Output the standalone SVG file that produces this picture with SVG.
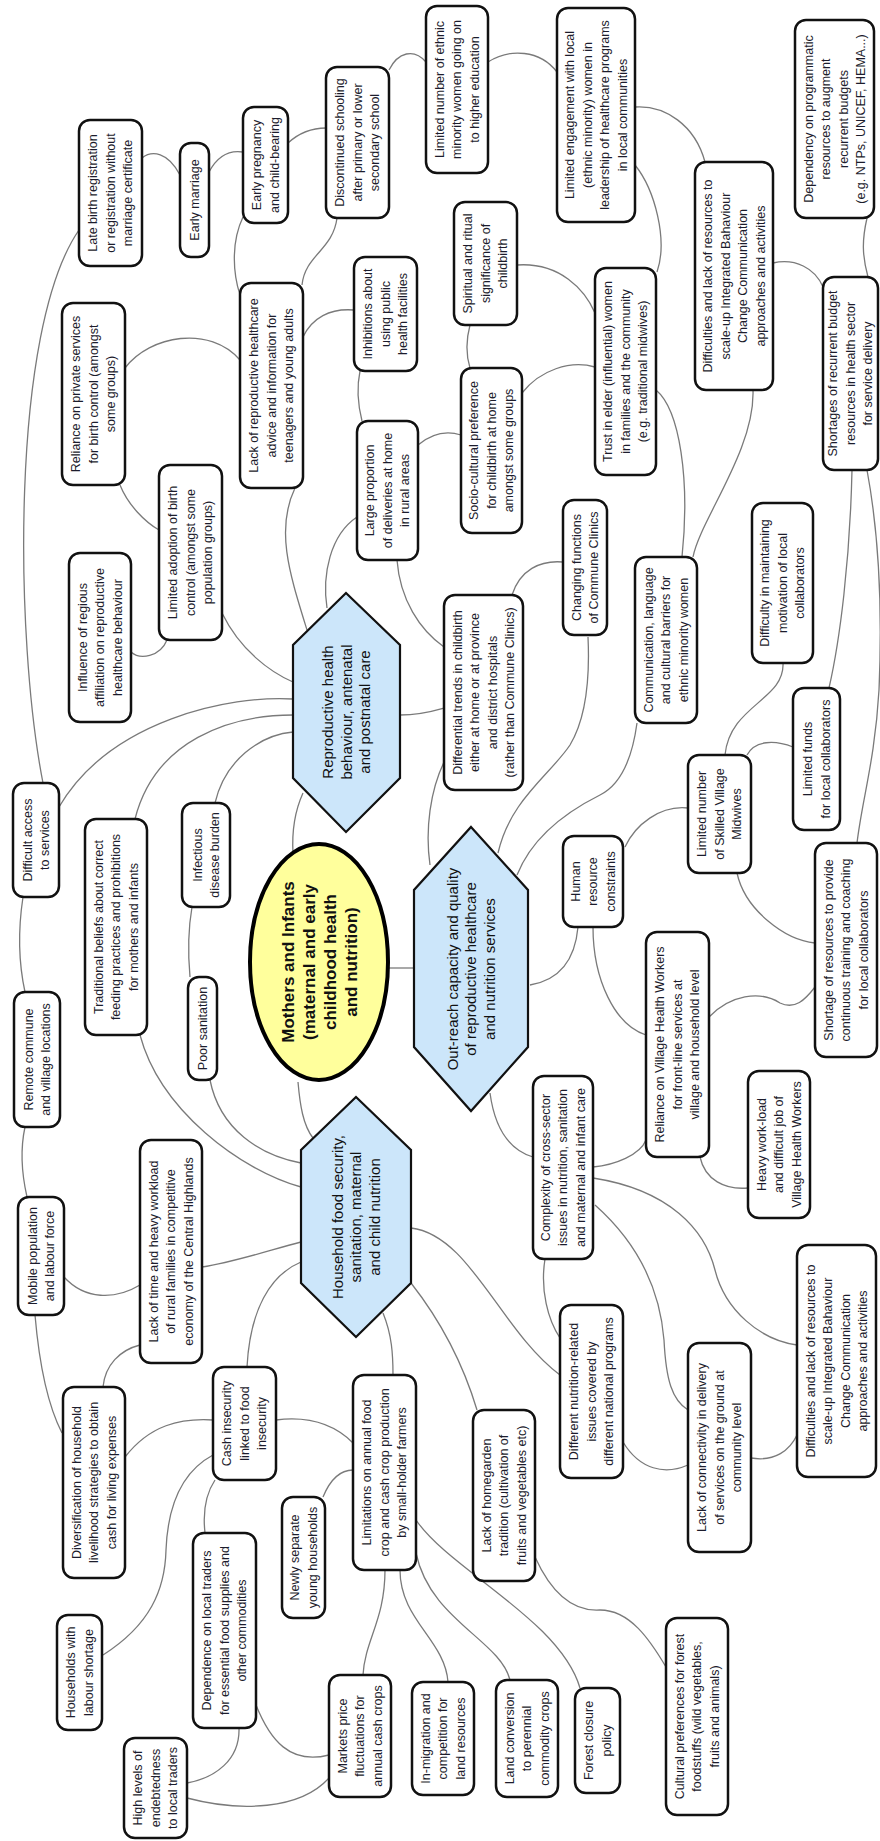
<svg xmlns="http://www.w3.org/2000/svg" width="880" height="1841" viewBox="0 0 880 1841">
<style>
.n rect{fill:#fff;stroke:#111;stroke-width:2.5}
.n text{font-family:"Liberation Sans",Arial,sans-serif;font-size:12.5px;fill:#1c1c2c;text-anchor:middle}
.hx polygon{fill:#cce6fa;stroke:#111;stroke-width:2.2}
.hx text{font-family:"Liberation Sans",Arial,sans-serif;font-size:15px;fill:#111;text-anchor:middle}
.ce ellipse{fill:#ffff9c;stroke:#000;stroke-width:4}
.ce text{font-family:"Liberation Sans",Arial,sans-serif;font-size:17px;font-weight:bold;fill:#111;text-anchor:middle}
.c path{fill:none;stroke:#7a7a7a;stroke-width:1.3}
</style>
<rect width="880" height="1841" fill="#fff"/>
<g class="c" id="connectors">
<path d="M142,158 C152,150 168,152 180,175"/>
<path d="M209,172 C218,155 230,150 243,152"/>
<path d="M288,143 C300,132 312,128 326,128"/>
<path d="M389,70 C398,52 414,48 426,62"/>
<path d="M488,62 C510,48 540,50 557,72"/>
<path d="M635,107 C665,105 695,125 705,162"/>
<path d="M635,165 C655,190 668,240 657,272"/>
<path d="M773,263 C795,258 815,268 823,287"/>
<path d="M867,218 C862,240 862,255 868,277"/>
<path d="M753,390 C755,450 700,520 693,557"/>
<path d="M656,390 C680,410 690,480 682,557"/>
<path d="M517,265 C560,262 585,290 595,313"/>
<path d="M522,393 C540,370 570,360 595,367"/>
<path d="M470,325 C466,340 466,355 470,368"/>
<path d="M418,445 C430,435 445,430 461,435"/>
<path d="M360,371 C356,390 358,405 362,421"/>
<path d="M354,310 C330,308 312,318 303,337"/>
<path d="M337,218 C333,250 305,255 302,285"/>
<path d="M243,217 C232,240 232,270 240,295"/>
<path d="M125,368 C150,335 210,325 240,360"/>
<path d="M120,485 C128,505 145,522 159,530"/>
<path d="M131,652 C140,660 160,657 167,640"/>
<path d="M222,613 C240,650 270,672 293,682"/>
<path d="M295,488 C275,530 290,575 307,630"/>
<path d="M59,807 C110,720 230,695 293,699"/>
<path d="M135,819 C155,740 230,715 293,715"/>
<path d="M215,803 C225,760 260,735 293,732"/>
<path d="M79,230 C10,330 15,640 43,783"/>
<path d="M23,897 C18,930 18,960 25,992"/>
<path d="M25,1127 C20,1150 22,1175 27,1197"/>
<path d="M64,1277 C85,1300 115,1300 140,1285"/>
<path d="M35,1315 C38,1350 45,1400 62,1433"/>
<path d="M140,1345 C120,1350 105,1365 103,1387"/>
<path d="M125,1457 C150,1425 180,1418 213,1420"/>
<path d="M103,1655 C150,1625 165,1590 166,1550 C168,1500 185,1470 213,1455"/>
<path d="M215,1480 C205,1495 203,1515 205,1533"/>
<path d="M276,1420 C300,1417 330,1420 353,1443"/>
<path d="M239,1728 C240,1760 215,1778 187,1783"/>
<path d="M256,1705 C270,1740 290,1765 329,1755"/>
<path d="M187,1798 C240,1812 300,1810 329,1778"/>
<path d="M323,1497 C330,1480 340,1470 353,1470"/>
<path d="M385,1570 C385,1620 365,1640 363,1675"/>
<path d="M400,1570 C400,1620 445,1640 448,1682"/>
<path d="M416,1553 C430,1620 500,1640 510,1680"/>
<path d="M416,1520 C450,1570 560,1620 580,1688"/>
<path d="M535,1557 C550,1590 570,1612 600,1610 C630,1610 650,1640 666,1667"/>
<path d="M383,1313 C392,1335 393,1355 393,1375"/>
<path d="M411,1283 C440,1320 462,1360 477,1410"/>
<path d="M411,1228 C470,1235 500,1330 560,1375"/>
<path d="M490,1093 C495,1130 510,1150 533,1157"/>
<path d="M545,1259 C540,1290 548,1320 560,1338"/>
<path d="M593,1167 C615,1165 640,1155 646,1140"/>
<path d="M593,1178 C670,1190 705,1230 715,1270 C725,1310 760,1340 797,1345"/>
<path d="M595,1205 C640,1245 660,1290 664,1340 C666,1380 672,1400 688,1410"/>
<path d="M623,1442 C640,1470 665,1475 688,1465"/>
<path d="M751,1458 C775,1462 790,1450 797,1435"/>
<path d="M530,985 C560,980 575,960 578,927"/>
<path d="M593,927 C593,980 615,1025 646,1035"/>
<path d="M709,1017 C730,995 760,990 780,1003 C795,1010 805,1000 815,987"/>
<path d="M700,1157 C705,1180 725,1190 748,1188"/>
<path d="M737,873 C745,910 785,940 815,943"/>
<path d="M688,808 C660,805 635,825 625,847"/>
<path d="M747,755 C755,740 775,740 793,747"/>
<path d="M783,663 C785,700 730,705 725,755"/>
<path d="M852,470 C850,560 840,640 829,688"/>
<path d="M867,470 C880,540 882,620 879,690 C875,760 862,800 857,843"/>
<path d="M517,875 C535,830 580,805 600,795 C620,785 632,760 637,723"/>
<path d="M498,853 C510,800 550,775 570,745 C585,720 590,680 588,637"/>
<path d="M445,760 C430,790 425,830 430,865"/>
<path d="M400,715 C415,715 430,712 444,708"/>
<path d="M397,560 C400,600 420,630 444,647"/>
<path d="M327,608 C322,575 330,535 357,517"/>
<path d="M512,595 C520,570 540,560 563,562"/>
<path d="M303,793 C293,815 292,835 293,853"/>
<path d="M388,968 L414,968"/>
<path d="M298,1082 C300,1105 303,1125 313,1138"/>
<path d="M210,1080 C220,1130 260,1155 301,1163"/>
<path d="M140,1035 C160,1110 240,1170 301,1187"/>
<path d="M202,1267 C235,1262 270,1250 301,1242"/>
<path d="M247,1367 C250,1310 270,1275 301,1262"/>
<path d="M192,907 C188,930 188,955 190,977"/>
</g>

<g id="center" class="ce">
<ellipse cx="319" cy="962" rx="69" ry="118"/>
<text transform="translate(319 962) rotate(-90)"><tspan x="0" y="-25.5">Mothers and Infants</tspan><tspan x="0" y="-4.5">(maternal and early</tspan><tspan x="0" y="16.5">childhood health</tspan><tspan x="0" y="37.5">and nutrition)</tspan></text>
</g>

<g id="hex-reproductive" class="hx">
<polygon points="346,593 400,645 400,778 346,832 293,778 293,645"/>
<text transform="translate(346.5 712) rotate(-90)"><tspan x="0" y="-13.2">Reproductive health</tspan><tspan x="0" y="5.3">behaviour, antenatal</tspan><tspan x="0" y="23.8">and postnatal care</tspan></text>
</g>
<g id="hex-outreach" class="hx">
<polygon points="471,827 528,890 528,1047 471,1111 414,1047 414,890"/>
<text transform="translate(471 969) rotate(-90)"><tspan x="0" y="-13.2">Out-reach capacity and quality</tspan><tspan x="0" y="5.3">of reproductive healthcare</tspan><tspan x="0" y="23.8">and nutrition services</tspan></text>
</g>
<g id="hex-household" class="hx">
<polygon points="356,1097 411,1150 411,1283 356,1337 301,1283 301,1150"/>
<text transform="translate(356 1217) rotate(-90)"><tspan x="0" y="-13.2">Household food security,</tspan><tspan x="0" y="5.3">sanitation, maternal</tspan><tspan x="0" y="23.8">and child nutrition</tspan></text>
</g>

<g id="n1" class="n"><rect x="79" y="120" width="63" height="146" rx="11"/><text transform="translate(110.5 193) rotate(-90)"><tspan x="0" y="-13.1">Late birth registration</tspan><tspan x="0" y="4.4">or registration without</tspan><tspan x="0" y="21.9">marriage certificate</tspan></text></g>
<g id="n2" class="n"><rect x="180" y="143" width="29" height="114" rx="11"/><text transform="translate(194.5 200) rotate(-90)"><tspan x="0" y="4.4">Early marriage</tspan></text></g>
<g id="n3" class="n"><rect x="243" y="107" width="45" height="116" rx="11"/><text transform="translate(265.5 165) rotate(-90)"><tspan x="0" y="-4.35">Early pregnancy</tspan><tspan x="0" y="13.15">and child-bearing</tspan></text></g>
<g id="n4" class="n"><rect x="326" y="67" width="63" height="151" rx="11"/><text transform="translate(357.5 142.5) rotate(-90)"><tspan x="0" y="-13.1">Discontinued schooling</tspan><tspan x="0" y="4.4">after primary or lower</tspan><tspan x="0" y="21.9">secondary school</tspan></text></g>
<g id="n5" class="n"><rect x="426" y="6" width="62" height="167" rx="11"/><text transform="translate(457 89.5) rotate(-90)"><tspan x="0" y="-13.1">Limited number of ethnic</tspan><tspan x="0" y="4.4">minority women going on</tspan><tspan x="0" y="21.9">to higher education</tspan></text></g>
<g id="n6" class="n"><rect x="557" y="8" width="78" height="214" rx="11"/><text transform="translate(596 115) rotate(-90)"><tspan x="0" y="-21.85">Limited engagement with local</tspan><tspan x="0" y="-4.35">(ethnic minority) women in</tspan><tspan x="0" y="13.15">leadership of healthcare programs</tspan><tspan x="0" y="30.65">in local communities</tspan></text></g>
<g id="n7" class="n"><rect x="795" y="20" width="79" height="198" rx="11"/><text transform="translate(834.5 119) rotate(-90)"><tspan x="0" y="-21.85">Dependency on programmatic</tspan><tspan x="0" y="-4.35">resources to augment</tspan><tspan x="0" y="13.15">recurrent budgets</tspan><tspan x="0" y="30.65">(e.g. NTPs, UNICEF, HEMA...)</tspan></text></g>
<g id="n8" class="n"><rect x="695" y="162" width="78" height="228" rx="11"/><text transform="translate(734 276) rotate(-90)"><tspan x="0" y="-21.85">Difficulties and lack of resources to</tspan><tspan x="0" y="-4.35">scale-up Integrated Bahaviour</tspan><tspan x="0" y="13.15">Change Communication</tspan><tspan x="0" y="30.65">approaches and activities</tspan></text></g>
<g id="n9" class="n"><rect x="823" y="277" width="55" height="193" rx="11"/><text transform="translate(850.5 373.5) rotate(-90)"><tspan x="0" y="-13.1">Shortages of recurrent budget</tspan><tspan x="0" y="4.4">resources in health sector</tspan><tspan x="0" y="21.9">for service delivery</tspan></text></g>
<g id="n10" class="n"><rect x="595" y="268" width="61" height="207" rx="11"/><text transform="translate(625.5 371.5) rotate(-90)"><tspan x="0" y="-13.1">Trust in elder (influential) women</tspan><tspan x="0" y="4.4">in families and the community</tspan><tspan x="0" y="21.9">(e.g. traditional midwives)</tspan></text></g>
<g id="n11" class="n"><rect x="454" y="202" width="63" height="123" rx="11"/><text transform="translate(485.5 263.5) rotate(-90)"><tspan x="0" y="-13.1">Spiritual and ritual</tspan><tspan x="0" y="4.4">significance of</tspan><tspan x="0" y="21.9">childbirth</tspan></text></g>
<g id="n12" class="n"><rect x="461" y="368" width="61" height="165" rx="11"/><text transform="translate(491.5 450.5) rotate(-90)"><tspan x="0" y="-13.1">Socio-cultural preference</tspan><tspan x="0" y="4.4">for childbirth at home</tspan><tspan x="0" y="21.9">amongst some groups</tspan></text></g>
<g id="n13" class="n"><rect x="354" y="257" width="63" height="114" rx="11"/><text transform="translate(385.5 314) rotate(-90)"><tspan x="0" y="-13.1">Inhibitions about</tspan><tspan x="0" y="4.4">using public</tspan><tspan x="0" y="21.9">health facilities</tspan></text></g>
<g id="n14" class="n"><rect x="240" y="283" width="63" height="205" rx="11"/><text transform="translate(271.5 385.5) rotate(-90)"><tspan x="0" y="-13.1">Lack of reproductive healthcare</tspan><tspan x="0" y="4.4">advice and information for</tspan><tspan x="0" y="21.9">teenagers and young adults</tspan></text></g>
<g id="n15" class="n"><rect x="62" y="303" width="63" height="182" rx="11"/><text transform="translate(93.5 394) rotate(-90)"><tspan x="0" y="-13.1">Reliance on private services</tspan><tspan x="0" y="4.4">for birth control (amongst</tspan><tspan x="0" y="21.9">some groups)</tspan></text></g>
<g id="n16" class="n"><rect x="159" y="465" width="63" height="175" rx="11"/><text transform="translate(190.5 552.5) rotate(-90)"><tspan x="0" y="-13.1">Limited adoption of birth</tspan><tspan x="0" y="4.4">control (amongst some</tspan><tspan x="0" y="21.9">population groups)</tspan></text></g>
<g id="n17" class="n"><rect x="69" y="553" width="62" height="169" rx="11"/><text transform="translate(100 637.5) rotate(-90)"><tspan x="0" y="-13.1">Influence of regious</tspan><tspan x="0" y="4.4">affiliation on reproductive</tspan><tspan x="0" y="21.9">healthcare behaviour</tspan></text></g>
<g id="n18" class="n"><rect x="357" y="421" width="61" height="139" rx="11"/><text transform="translate(387.5 490.5) rotate(-90)"><tspan x="0" y="-13.1">Large proportion</tspan><tspan x="0" y="4.4">of deliveries at home</tspan><tspan x="0" y="21.9">in rural areas</tspan></text></g>
<g id="n19" class="n"><rect x="444" y="595" width="79" height="195" rx="11"/><text transform="translate(483.5 692.5) rotate(-90)"><tspan x="0" y="-21.85">Differential trends in childbirth</tspan><tspan x="0" y="-4.35">either at home or at province</tspan><tspan x="0" y="13.15">and district hospitals</tspan><tspan x="0" y="30.65">(rather than Commune Clinics)</tspan></text></g>
<g id="n20" class="n"><rect x="563" y="500" width="44" height="135" rx="11"/><text transform="translate(585 567.5) rotate(-90)"><tspan x="0" y="-4.35">Changing functions</tspan><tspan x="0" y="13.15">of Commune Clinics</tspan></text></g>
<g id="n21" class="n"><rect x="635" y="557" width="62" height="166" rx="11"/><text transform="translate(666 640) rotate(-90)"><tspan x="0" y="-13.1">Communication, language</tspan><tspan x="0" y="4.4">and cultural barriers for</tspan><tspan x="0" y="21.9">ethnic minority women</tspan></text></g>
<g id="n22" class="n"><rect x="752" y="503" width="61" height="160" rx="11"/><text transform="translate(782.5 583) rotate(-90)"><tspan x="0" y="-13.1">Difficulty in maintaining</tspan><tspan x="0" y="4.4">motivation of local</tspan><tspan x="0" y="21.9">collaborators</tspan></text></g>
<g id="n23" class="n"><rect x="793" y="688" width="47" height="142" rx="11"/><text transform="translate(816.5 759) rotate(-90)"><tspan x="0" y="-4.35">Limited funds</tspan><tspan x="0" y="13.15">for local collaborators</tspan></text></g>
<g id="n24" class="n"><rect x="688" y="755" width="63" height="118" rx="11"/><text transform="translate(719.5 814) rotate(-90)"><tspan x="0" y="-13.1">Limited number</tspan><tspan x="0" y="4.4">of Skilled Village</tspan><tspan x="0" y="21.9">Midwives</tspan></text></g>
<g id="n25" class="n"><rect x="563" y="836" width="60" height="91" rx="11"/><text transform="translate(593 881.5) rotate(-90)"><tspan x="0" y="-13.1">Human</tspan><tspan x="0" y="4.4">resource</tspan><tspan x="0" y="21.9">constraints</tspan></text></g>
<g id="n26" class="n"><rect x="815" y="843" width="62" height="214" rx="11"/><text transform="translate(846 950) rotate(-90)"><tspan x="0" y="-13.1">Shortage of resources to provide</tspan><tspan x="0" y="4.4">continuous training and coaching</tspan><tspan x="0" y="21.9">for local collaborators</tspan></text></g>
<g id="n27" class="n"><rect x="13" y="783" width="46" height="114" rx="11"/><text transform="translate(36 840) rotate(-90)"><tspan x="0" y="-4.35">Difficult access</tspan><tspan x="0" y="13.15">to services</tspan></text></g>
<g id="n28" class="n"><rect x="85" y="819" width="62" height="216" rx="11"/><text transform="translate(116 927) rotate(-90)"><tspan x="0" y="-13.1">Traditional beliefs about correct</tspan><tspan x="0" y="4.4">feeding practices and prohibitions</tspan><tspan x="0" y="21.9">for mothers and infants</tspan></text></g>
<g id="n29" class="n"><rect x="182" y="803" width="48" height="104" rx="11"/><text transform="translate(206 855) rotate(-90)"><tspan x="0" y="-4.35">Infectious</tspan><tspan x="0" y="13.15">disease burden</tspan></text></g>
<g id="n30" class="n"><rect x="188" y="977" width="29" height="103" rx="11"/><text transform="translate(202.5 1028.5) rotate(-90)"><tspan x="0" y="4.4">Poor sanitation</tspan></text></g>
<g id="n31" class="n"><rect x="14" y="992" width="46" height="135" rx="11"/><text transform="translate(37 1059.5) rotate(-90)"><tspan x="0" y="-4.35">Remote commune</tspan><tspan x="0" y="13.15">and village locations</tspan></text></g>
<g id="n32" class="n"><rect x="18" y="1197" width="46" height="118" rx="11"/><text transform="translate(41 1256) rotate(-90)"><tspan x="0" y="-4.35">Mobile population</tspan><tspan x="0" y="13.15">and labour force</tspan></text></g>
<g id="n33" class="n"><rect x="140" y="1140" width="62" height="223" rx="11"/><text transform="translate(171 1251.5) rotate(-90)"><tspan x="0" y="-13.1">Lack of time and heavy workload</tspan><tspan x="0" y="4.4">of rural families in competitive</tspan><tspan x="0" y="21.9">economy of the Central Highlands</tspan></text></g>
<g id="n34" class="n"><rect x="646" y="932" width="63" height="225" rx="11"/><text transform="translate(677.5 1044.5) rotate(-90)"><tspan x="0" y="-13.1">Reliance on Village Health Workers</tspan><tspan x="0" y="4.4">for front-line services at</tspan><tspan x="0" y="21.9">village and household level</tspan></text></g>
<g id="n35" class="n"><rect x="748" y="1071" width="62" height="147" rx="11"/><text transform="translate(779 1144.5) rotate(-90)"><tspan x="0" y="-13.1">Heavy work-load</tspan><tspan x="0" y="4.4">and difficult job of</tspan><tspan x="0" y="21.9">Village Health Workers</tspan></text></g>
<g id="n36" class="n"><rect x="533" y="1076" width="60" height="183" rx="11"/><text transform="translate(563 1167.5) rotate(-90)"><tspan x="0" y="-13.1">Complexity of cross-sector</tspan><tspan x="0" y="4.4">issues in nutrition, sanitation</tspan><tspan x="0" y="21.9">and maternal and infant care</tspan></text></g>
<g id="n37" class="n"><rect x="560" y="1305" width="63" height="173" rx="11"/><text transform="translate(591.5 1391.5) rotate(-90)"><tspan x="0" y="-13.1">Different nutrition-related</tspan><tspan x="0" y="4.4">issues covered by</tspan><tspan x="0" y="21.9">different national programs</tspan></text></g>
<g id="n38" class="n"><rect x="797" y="1245" width="79" height="232" rx="11"/><text transform="translate(836.5 1361) rotate(-90)"><tspan x="0" y="-21.85">Difficulties and lack of resources to</tspan><tspan x="0" y="-4.35">scale-up Integrated Bahaviour</tspan><tspan x="0" y="13.15">Change Communication</tspan><tspan x="0" y="30.65">approaches and activities</tspan></text></g>
<g id="n39" class="n"><rect x="688" y="1343" width="63" height="209" rx="11"/><text transform="translate(719.5 1447.5) rotate(-90)"><tspan x="0" y="-13.1">Lack of connectivity in delivery</tspan><tspan x="0" y="4.4">of services on the ground at</tspan><tspan x="0" y="21.9">community level</tspan></text></g>
<g id="n40" class="n"><rect x="63" y="1387" width="62" height="191" rx="11"/><text transform="translate(94 1482.5) rotate(-90)"><tspan x="0" y="-13.1">Diversification of household</tspan><tspan x="0" y="4.4">livelihood strategies to obtain</tspan><tspan x="0" y="21.9">cash for living expenses</tspan></text></g>
<g id="n41" class="n"><rect x="213" y="1367" width="63" height="113" rx="11"/><text transform="translate(244.5 1423.5) rotate(-90)"><tspan x="0" y="-13.1">Cash insecurity</tspan><tspan x="0" y="4.4">linked to food</tspan><tspan x="0" y="21.9">insecurity</tspan></text></g>
<g id="n42" class="n"><rect x="57" y="1615" width="45" height="115" rx="11"/><text transform="translate(79.5 1672.5) rotate(-90)"><tspan x="0" y="-4.35">Households with</tspan><tspan x="0" y="13.15">labour shortage</tspan></text></g>
<g id="n43" class="n"><rect x="193" y="1533" width="63" height="195" rx="11"/><text transform="translate(224.5 1630.5) rotate(-90)"><tspan x="0" y="-13.1">Dependence on local traders</tspan><tspan x="0" y="4.4">for essential food supplies and</tspan><tspan x="0" y="21.9">other commodities</tspan></text></g>
<g id="n44" class="n"><rect x="124" y="1738" width="63" height="100" rx="11"/><text transform="translate(155.5 1788) rotate(-90)"><tspan x="0" y="-13.1">High levels of</tspan><tspan x="0" y="4.4">endebtedness</tspan><tspan x="0" y="21.9">to local traders</tspan></text></g>
<g id="n45" class="n"><rect x="282" y="1497" width="43" height="121" rx="11"/><text transform="translate(303.5 1557.5) rotate(-90)"><tspan x="0" y="-4.35">Newly separate</tspan><tspan x="0" y="13.15">young households</tspan></text></g>
<g id="n46" class="n"><rect x="353" y="1375" width="63" height="195" rx="11"/><text transform="translate(384.5 1472.5) rotate(-90)"><tspan x="0" y="-13.1">Limitations on annual food</tspan><tspan x="0" y="4.4">crop and cash crop production</tspan><tspan x="0" y="21.9">by small-holder farmers</tspan></text></g>
<g id="n47" class="n"><rect x="473" y="1410" width="62" height="171" rx="11"/><text transform="translate(504 1495.5) rotate(-90)"><tspan x="0" y="-13.1">Lack of homegarden</tspan><tspan x="0" y="4.4">tradition (cultivation of</tspan><tspan x="0" y="21.9">fruits and vegetables etc)</tspan></text></g>
<g id="n48" class="n"><rect x="329" y="1675" width="62" height="122" rx="11"/><text transform="translate(360 1736) rotate(-90)"><tspan x="0" y="-13.1">Markets price</tspan><tspan x="0" y="4.4">fluctuations for</tspan><tspan x="0" y="21.9">annual cash crops</tspan></text></g>
<g id="n49" class="n"><rect x="412" y="1682" width="62" height="113" rx="11"/><text transform="translate(443 1738.5) rotate(-90)"><tspan x="0" y="-13.1">In-migration and</tspan><tspan x="0" y="4.4">competition for</tspan><tspan x="0" y="21.9">land resources</tspan></text></g>
<g id="n50" class="n"><rect x="496" y="1680" width="62" height="117" rx="11"/><text transform="translate(527 1738.5) rotate(-90)"><tspan x="0" y="-13.1">Land conversion</tspan><tspan x="0" y="4.4">to perennial</tspan><tspan x="0" y="21.9">commodity crops</tspan></text></g>
<g id="n51" class="n"><rect x="575" y="1688" width="45" height="105" rx="11"/><text transform="translate(597.5 1740.5) rotate(-90)"><tspan x="0" y="-4.35">Forest closure</tspan><tspan x="0" y="13.15">policy</tspan></text></g>
<g id="n52" class="n"><rect x="666" y="1618" width="62" height="197" rx="11"/><text transform="translate(697 1716.5) rotate(-90)"><tspan x="0" y="-13.1">Cultural preferences for forest</tspan><tspan x="0" y="4.4">foodstuffs (wild vegetables,</tspan><tspan x="0" y="21.9">fruits and animals)</tspan></text></g>
</svg>
